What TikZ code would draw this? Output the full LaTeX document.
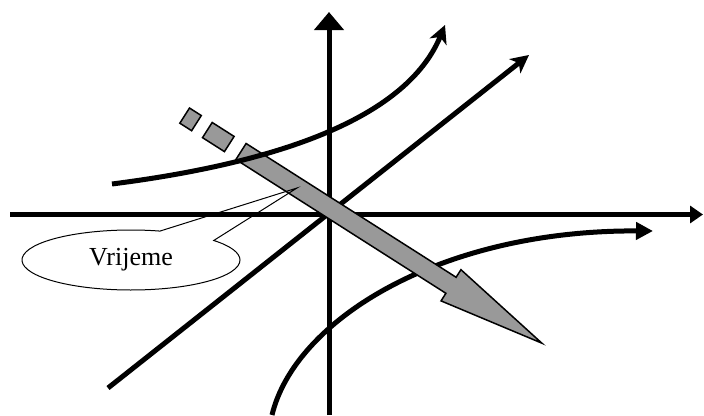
\documentclass[tikz,border=0pt]{standalone}
\usepackage{fontspec}
\setmainfont{Liberation Serif}
\usetikzlibrary{arrows.meta, shapes.callouts}
\definecolor{arrow-gray}{HTML}{999999}

\begin{document}
\begin{tikzpicture}[x=1pt, y=-1pt,
    every node/.style={font=\fontsize{26}{30}\selectfont},
    axis/.style={line width=5pt},
    curve/.style={line width=5pt},
    timearrow/.style={draw=black, fill=arrow-gray, line width=1.5pt,
      line join=miter}]
    \useasboundingbox (0,0) rectangle (704,415);
    \draw[axis, -{Triangle[length=13pt, width=17pt]}] (10,214.5) -- (703,214.5);
    \draw[axis, -{Triangle[length=18pt, width=29pt]}] (329,415) -- (329,12);
    \draw[curve, -{Stealth[length=18pt, width=18pt, inset=5pt]}]
      (108,388) -- (529,55);
    \draw[curve, -{Triangle[length=17pt, width=17pt]}]
      (272,415) .. controls (295,320) and (440,230) .. (653,231);

    \begin{scope}[shift={(241,151.5)}, rotate=-32.5]
      \draw[timearrow] (0,-9.5) -- (249,-9.5) -- (249,-18.5) -- (356.7,0)
        -- (249,18.5) -- (249,9.5) -- (0,9.5) -- cycle;
      \draw[timearrow] (-39.9,-9) rectangle (-13.9,9);
      \draw[timearrow] (-66.8,-9) rectangle (-52.8,9);
    \end{scope}

    \draw[curve, -{Stealth[length=18pt, width=18pt, inset=5pt]}]
      (112,184) .. controls (300,160) and (410,110) .. (445,25);

    \coordinate (tpoint) at (297,188);
    \node[ellipse callout, draw, line width=1pt, inner sep=0pt,
      minimum width=218pt, minimum height=60pt,
      callout absolute pointer={(tpoint)}, callout pointer arc=34]
      (tcall) at (131,260) {Vrijeme};
\end{tikzpicture}
\end{document}
